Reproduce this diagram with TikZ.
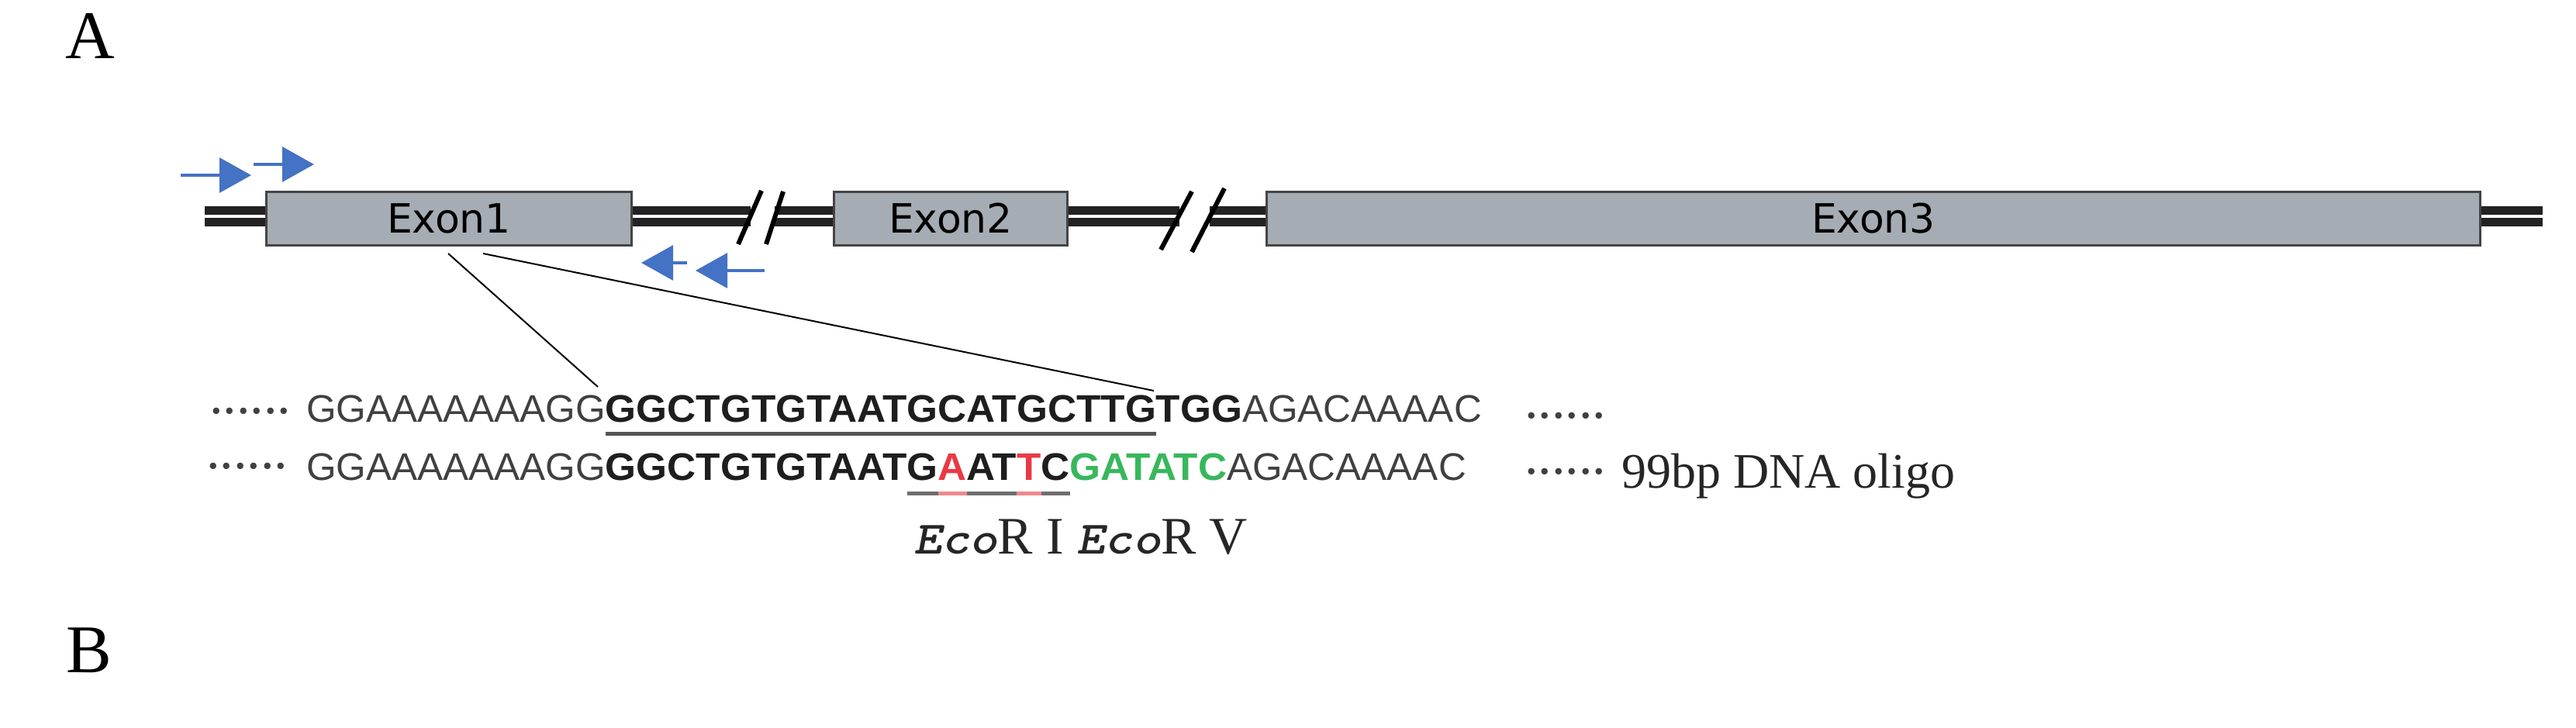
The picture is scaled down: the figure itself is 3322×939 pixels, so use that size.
\documentclass[tikz,border=0pt]{standalone}
\usepackage{fontspec}
\setmainfont{Liberation Serif}
\newfontfamily\seqfont[BoldFeatures={FakeStretch=1.035}]{Liberation Sans}
\newfontfamily\exonfont{DejaVu Sans}
\usetikzlibrary{arrows.meta}
\definecolor{exonfill}{HTML}{A6ACB3}
\definecolor{exonline}{HTML}{444444}
\definecolor{intron}{HTML}{222222}
\definecolor{primer}{HTML}{4472C4}
\definecolor{seqgray}{HTML}{404040}
\definecolor{seqdark}{HTML}{1E1E1E}
\definecolor{mutred}{HTML}{E83A45}
\definecolor{mutpink}{HTML}{F08890}
\definecolor{ecovgreen}{HTML}{38B75C}
\definecolor{ulgray}{HTML}{6E6E6E}
\definecolor{ulgrayone}{HTML}{555555}
\newcommand\econame{\scalebox{1.15}[1]{\fontsize{15}{17}\ttfamily\bfseries\itshape Eco}}
\begin{document}
\begin{tikzpicture}[x=0.25pt,y=-0.25pt,
  exon/.style={draw=exonline, line width=0.75pt, fill=exonfill, minimum height=17.25pt, inner sep=0pt, font=\exonfont\fontsize{13}{15}\selectfont},
  intronline/.style={draw=intron, line width=2.65pt, double=white, double distance=1.05pt},
  breakmark/.style={draw=black, line width=1.5pt},
  primerarrow/.style={draw=primer, line width=0.8pt, -{Triangle[length=10.25pt,width=11.25pt]}},
  zoomline/.style={draw=black, line width=0.5pt},
  seqtxt/.style={inner sep=0pt, outer sep=0pt, anchor=base west, font=\seqfont\fontsize{12.4}{14}\selectfont, text=seqgray},
  seqbold/.style={seqtxt, font=\seqfont\bfseries\fontsize{12.4}{14}\selectfont, text=seqdark},
  dotstxt/.style={inner sep=0pt, outer sep=0pt, anchor=base west, font=\fontsize{17.5}{20}\selectfont, text=seqgray},
  seriftxt/.style={inner sep=0pt, outer sep=0pt, anchor=base west, text=black!85},
  paneltxt/.style={inner sep=0pt, outer sep=0pt, anchor=base west, font=\fontsize{22}{26}\selectfont, text=black},
  ulone/.style={draw=ulgrayone, line width=1.25pt},
  ultwo/.style={draw=ulgray, line width=1.25pt},
  ulpink/.style={draw=mutpink, line width=1.25pt}
]
\useasboundingbox (0,0) rectangle (3322,939);

% panel labels
\node[paneltxt] (labA) at (84,76) {A};
\node[paneltxt] (labB) at (85,868) {B};

% exons
\node[exon, minimum width=117.75pt] (e1) at (579,282) {Exon1};
\node[exon, minimum width=75.25pt] (e2) at (1226,282) {Exon2};
\node[exon, minimum width=391.25pt] (e3) at (2416,282) {Exon3};

% intron double lines
\coordinate (leftend) at (264,279);
\coordinate (b1l) at (968,279);
\coordinate (b1r) at (999,279);
\coordinate (b2l) at (1521,279);
\coordinate (b2r) at (1560,279);
\coordinate (rightend) at (3279,279);
\draw[intronline] (leftend) -- (e1.west |- leftend);
\draw[intronline] (e1.east |- leftend) -- (b1l);
\draw[intronline] (b1r) -- (e2.west |- leftend);
\draw[intronline] (e2.east |- leftend) -- (b2l);
\draw[intronline] (b2r) -- (e3.west |- leftend);
\draw[intronline] (e3.east |- leftend) -- (rightend);

% break marks
\coordinate (s1a0) at (952,315); \coordinate (s1a1) at (982,246);
\coordinate (s1b0) at (988,315); \coordinate (s1b1) at (1010,247);
\coordinate (s2a0) at (1497,322); \coordinate (s2a1) at (1537,247);
\coordinate (s2b0) at (1537,325); \coordinate (s2b1) at (1579,243);
\draw[breakmark] (s1a0) -- (s1a1);
\draw[breakmark] (s1b0) -- (s1b1);
\draw[breakmark] (s2a0) -- (s2a1);
\draw[breakmark] (s2b0) -- (s2b1);

% primers
\coordinate (f1s) at (233,226); \coordinate (f1e) at (324,226);
\coordinate (f2s) at (327,212); \coordinate (f2e) at (405,212);
\coordinate (r1s) at (886,339); \coordinate (r1e) at (827,339);
\coordinate (r2s) at (986,349); \coordinate (r2e) at (897,349);
\draw[primerarrow] (f1s) -- (f1e);
\draw[primerarrow] (f2s) -- (f2e);
\draw[primerarrow] (r1s) -- (r1e);
\draw[primerarrow] (r2s) -- (r2e);

% sequence row 1
\node[dotstxt] (d1a) at (270,534) {......};
\node[seqtxt] (r1a) at (395,545) {GGAAAAAAAGG};
\node[seqbold] (r1b) at (r1a.base east) {GGCTGTGTAATGCATGCTTG};
\node[seqbold] (r1c) at (r1b.base east) {TGG};
\node[seqtxt] (r1d) at (r1c.base east) {AGACAAAAC};
\node[dotstxt] (d1b) at (1966,540) {......};
\draw[ulone] ([yshift=-3.6pt]r1b.base west) -- ([yshift=-3.6pt]r1b.base east);

% sequence row 2
\node[dotstxt] (d2a) at (266,605) {......};
\node[seqtxt] (r2a) at (395,620) {GGAAAAAAAGG};
\node[seqbold] (r2b) at (r2a.base east) {GGCTGTGTAAT};
\node[seqbold] (r2c) at (r2b.base east) {G};
\node[seqbold, text=mutred] (r2d) at (r2c.base east) {A};
\node[seqbold] (r2e) at (r2d.base east) {AT};
\node[seqbold, text=mutred] (r2f) at (r2e.base east) {T};
\node[seqbold] (r2g) at (r2f.base east) {C};
\node[seqbold, text=ecovgreen] (r2h) at (r2g.base east) {GATATC};
\node[seqtxt] (r2i) at (r2h.base east) {AGACAAAAC};
\node[dotstxt] (d2b) at (1966,612) {......};
\node[seriftxt, font=\fontsize{16}{19}\selectfont] (oligo) at (2091,630) {99bp DNA oligo};
\draw[ultwo] ([yshift=-4.1pt]r2c.base west) -- ([yshift=-4.1pt]r2g.base east);
\draw[ulpink] ([yshift=-4.1pt]r2d.base west) -- ([yshift=-4.1pt]r2d.base east);
\draw[ulpink] ([yshift=-4.1pt]r2f.base west) -- ([yshift=-4.1pt]r2f.base east);

% enzyme names
\node[seriftxt, font=\fontsize{17}{20}\selectfont] (enz) at (1178,715) {\econame R I \econame R V};

% zoom lines from exon 1 to the sequence
\coordinate (z1s) at (578,327); \coordinate (z1e) at (771,499);
\coordinate (z2s) at (623,327); \coordinate (z2e) at (1488,504);
\draw[zoomline] (z1s) -- (z1e);
\draw[zoomline] (z2s) -- (z2e);
\end{tikzpicture}
\end{document}
